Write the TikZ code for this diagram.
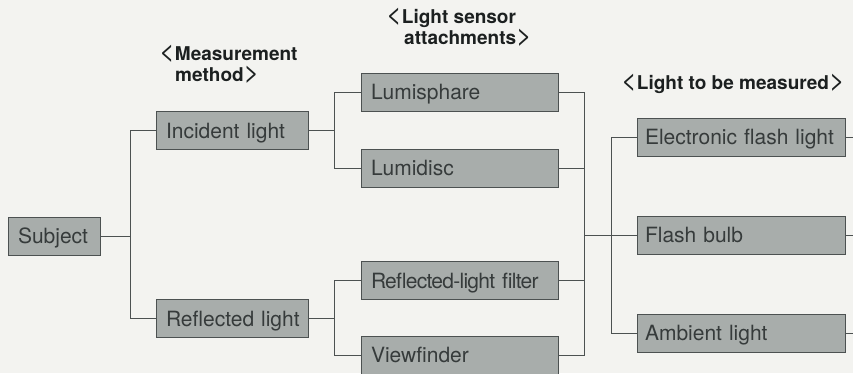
\documentclass[tikz,border=0pt]{standalone}
\usepackage{fontspec}
\setmainfont{TeX Gyre Heros}
\usepackage{xcolor}
\usepackage{tikz}
\usetikzlibrary{positioning}
\definecolor{paper}{HTML}{F3F3F0}
\definecolor{boxfill}{HTML}{A8ADAB}
\definecolor{boxedge}{HTML}{4C5151}
\definecolor{boxtext}{HTML}{363B3B}
\definecolor{headtext}{HTML}{1C2020}
\newcommand{\hdopen}{\smash{\mdseries\fontsize{27}{27}\selectfont<}}
\newcommand{\hdclose}{\smash{\mdseries\fontsize{27}{27}\selectfont>}}

\begin{document}
\begin{tikzpicture}[
  x=1pt, y=1pt,
  node distance=56pt,
  boxpad/.code={\def\boxpad{#1}},
  box/.style={draw=boxedge, fill=boxfill, line width=1pt, minimum height=38pt, inner xsep=2pt, inner ysep=0pt,
    align=left, text=boxtext, text height=15.3pt, text depth=0pt, font=\fontsize{21}{25}\selectfont,
    boxpad=8pt, execute at begin node=\hspace*{\boxpad}},
  subjbox/.style={box, text width=88pt},
  methbox/.style={box, text width=148pt},
  attbox/.style={box, text width=193pt},
  lightbox/.style={box, text width=204pt, boxpad=6pt},
  head/.style={anchor=base west, inner sep=0pt, align=left, text=headtext, font=\bfseries\fontsize{19}{20.5}\selectfont},
  link/.style={draw=boxedge, line width=1pt},
]
  \useasboundingbox (0,0) rectangle (853,-373);
  \clip (0,0) rectangle (853,-373);
  \fill[paper] (0,0) rectangle (853,-373);

  % headings
  \node[head] (hdmethod) at (159,-81) {\hdopen Measurement\\\hspace{16pt}method\hdclose};
  \node[head] (hdsensor) at (386,-44) {\hdopen Light sensor\\\hspace{18pt}attachments\hdclose};
  \node[head] (hdlight) at (621,-89) {\hdopen Light to be measured\hdclose};

  % boxes
  \node[subjbox] (subject) at (54,-236) {Subject};
  \node[methbox, right=55pt of subject, yshift=105.5pt] (incident) {Incident light};
  \node[methbox, right=55pt of subject, yshift=-82.5pt] (reflected) {Reflected light};
  \node[attbox, right=52pt of incident, yshift=38.5pt] (lumisphare) {Lumisphare};
  \node[attbox, right=52pt of incident, yshift=-37.5pt] (lumidisc) {Lumidisc};
  \node[attbox, right=52pt of reflected, yshift=38pt] (filter) {\addfontfeature{LetterSpace=-3.5}Reflected-light filter};
  \node[attbox, right=52pt of reflected, yshift=-36.5pt] (viewfinder) {Viewfinder};
  \node[lightbox, right=78pt of lumidisc, yshift=31pt] (flashlight) {Electronic flash light};
  \node[lightbox, below=59pt of flashlight] (bulb) {Flash bulb};
  \node[lightbox, below=59pt of bulb] (ambient) {Ambient light};

  % connectors
  \draw[link] (subject.east) -- +(30pt,0) |- (incident.west);
  \draw[link] (subject.east) -- +(30pt,0) |- (reflected.west);
  \draw[link] (incident.east) -- +(26pt,0) |- (lumisphare.west);
  \draw[link] (incident.east) -- +(26pt,0) |- (lumidisc.west);
  \draw[link] (reflected.east) -- +(26pt,0) |- (filter.west);
  \draw[link] (reflected.east) -- +(26pt,0) |- (viewfinder.west);
  \foreach \src in {lumisphare, lumidisc, filter, viewfinder}
    \draw[link] (\src.east) -- +(26pt,0) |- (bulb.west);
  \draw[link] (flashlight.west) -- +(-25pt,0) |- (bulb.west);
  \draw[link] (ambient.west) -- +(-25pt,0) |- (bulb.west);
  \foreach \src in {flashlight, bulb, ambient}
    \draw[link] (\src.east) -- +(12pt,0);
\end{tikzpicture}
\end{document}
